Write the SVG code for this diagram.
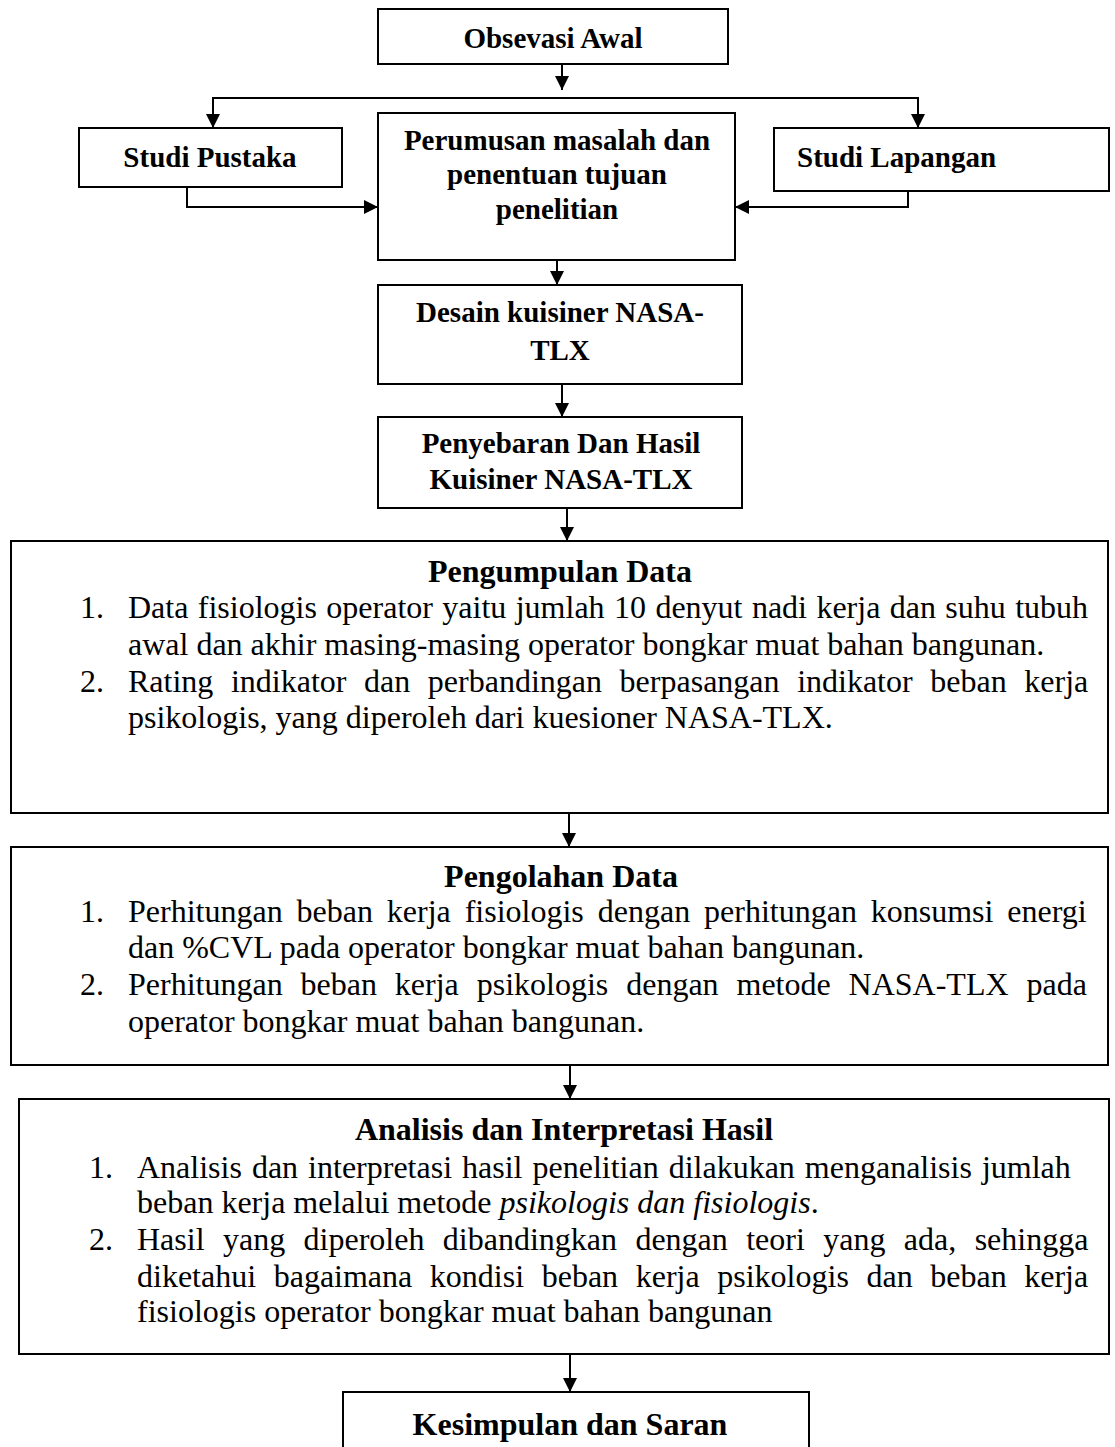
<svg xmlns="http://www.w3.org/2000/svg" width="1115" height="1447" viewBox="0 0 1115 1447">
<style>
.box{fill:#fff;stroke:#000;stroke-width:2}
.t{font-family:"Liberation Serif","Times New Roman",serif;font-size:29px;font-weight:bold;fill:#000}
.h{font-family:"Liberation Serif","Times New Roman",serif;font-size:32px;font-weight:bold;fill:#000;text-anchor:middle}
.b{font-family:"Liberation Serif","Times New Roman",serif;font-size:32px;fill:#000}
.c{text-anchor:middle}
.con{fill:none;stroke:#000;stroke-width:2}
</style>
<defs>
<marker id="ah" markerWidth="15" markerHeight="14" refX="14" refY="7" orient="auto" markerUnits="userSpaceOnUse">
<path d="M0,0 L14,7 L0,14 z" fill="#000"/>
</marker>
</defs>
<rect width="1115" height="1447" fill="#fff"/>
<g id="connectors">
<path class="con" d="M562,64 V90" marker-end="url(#ah)"/>
<path class="con" d="M562,98 H213 V128" marker-end="url(#ah)"/>
<path class="con" d="M562,98 H918 V128" marker-end="url(#ah)"/>
<path class="con" d="M187,187 V207 H378" marker-end="url(#ah)"/>
<path class="con" d="M908,191 V207 H735" marker-end="url(#ah)"/>
<path class="con" d="M557,260 V285" marker-end="url(#ah)"/>
<path class="con" d="M562,384 V417" marker-end="url(#ah)"/>
<path class="con" d="M567,508 V541" marker-end="url(#ah)"/>
<path class="con" d="M569,813 V847" marker-end="url(#ah)"/>
<path class="con" d="M570,1065 V1099" marker-end="url(#ah)"/>
<path class="con" d="M570,1354 V1392" marker-end="url(#ah)"/>
</g>
<g id="obsevasi">
<rect class="box" x="378" y="9" width="350" height="55"/>
<text class="t c" x="553" y="48">Obsevasi Awal</text>
</g>
<g id="studi-pustaka">
<rect class="box" x="79" y="128" width="263" height="59"/>
<text class="t c" x="210" y="167">Studi Pustaka</text>
</g>
<g id="perumusan">
<rect class="box" x="378" y="113" width="357" height="147"/>
<text class="t c" x="557" y="150">Perumusan masalah dan</text>
<text class="t c" x="557" y="184">penentuan tujuan</text>
<text class="t c" x="557" y="219">penelitian</text>
</g>
<g id="studi-lapangan">
<rect class="box" x="774" y="128" width="335" height="63"/>
<text class="t" x="797" y="167">Studi Lapangan</text>
</g>
<g id="desain">
<rect class="box" x="378" y="285" width="364" height="99"/>
<text class="t c" x="560" y="322">Desain kuisiner NASA-</text>
<text class="t c" x="560" y="360">TLX</text>
</g>
<g id="penyebaran">
<rect class="box" x="378" y="417" width="364" height="91"/>
<text class="t c" x="561" y="453">Penyebaran Dan Hasil</text>
<text class="t c" x="561" y="489">Kuisiner NASA-TLX</text>
</g>
<g id="pengumpulan">
<rect class="box" x="11" y="541" width="1097" height="272"/>
<text class="h" x="560" y="582">Pengumpulan Data</text>
<text class="b" x="80" y="618">1.</text>
<text class="b" x="128" y="618" word-spacing="1.4">Data fisiologis operator yaitu jumlah 10 denyut nadi kerja dan suhu tubuh</text>
<text class="b" x="128" y="655">awal dan akhir masing-masing operator bongkar muat bahan bangunan.</text>
<text class="b" x="80" y="692">2.</text>
<text class="b" x="128" y="692" word-spacing="9.6">Rating indikator dan perbandingan berpasangan indikator beban kerja</text>
<text class="b" x="128" y="728">psikologis, yang diperoleh dari kuesioner NASA-TLX.</text>
</g>
<g id="pengolahan">
<rect class="box" x="11" y="847" width="1097" height="218"/>
<text class="h" x="561" y="887">Pengolahan Data</text>
<text class="b" x="80" y="922">1.</text>
<text class="b" x="128" y="922" word-spacing="5.9">Perhitungan beban kerja fisiologis dengan perhitungan konsumsi energi</text>
<text class="b" x="128" y="958">dan %CVL pada operator bongkar muat bahan bangunan.</text>
<text class="b" x="80" y="995">2.</text>
<text class="b" x="128" y="995" word-spacing="9.9">Perhitungan beban kerja psikologis dengan metode NASA-TLX pada</text>
<text class="b" x="128" y="1032">operator bongkar muat bahan bangunan.</text>
</g>
<g id="analisis">
<rect class="box" x="19" y="1099" width="1090" height="255"/>
<text class="h" x="564" y="1140">Analisis dan Interpretasi Hasil</text>
<text class="b" x="89" y="1178">1.</text>
<text class="b" x="137" y="1178" word-spacing="2">Analisis dan interpretasi hasil penelitian dilakukan menganalisis jumlah</text>
<text class="b" x="137" y="1213">beban kerja melalui metode <tspan font-style="italic">psikologis dan fisiologis</tspan>.</text>
<text class="b" x="89" y="1250">2.</text>
<text class="b" x="137" y="1250" word-spacing="10.4">Hasil yang diperoleh dibandingkan dengan teori yang ada, sehingga</text>
<text class="b" x="137" y="1287" word-spacing="9.6">diketahui bagaimana kondisi beban kerja psikologis dan beban kerja</text>
<text class="b" x="137" y="1322">fisiologis operator bongkar muat bahan bangunan</text>
</g>
<g id="kesimpulan">
<rect class="box" x="343" y="1392" width="466" height="80"/>
<text class="h" x="570" y="1435" font-size="31">Kesimpulan dan Saran</text>
</g>
</svg>
